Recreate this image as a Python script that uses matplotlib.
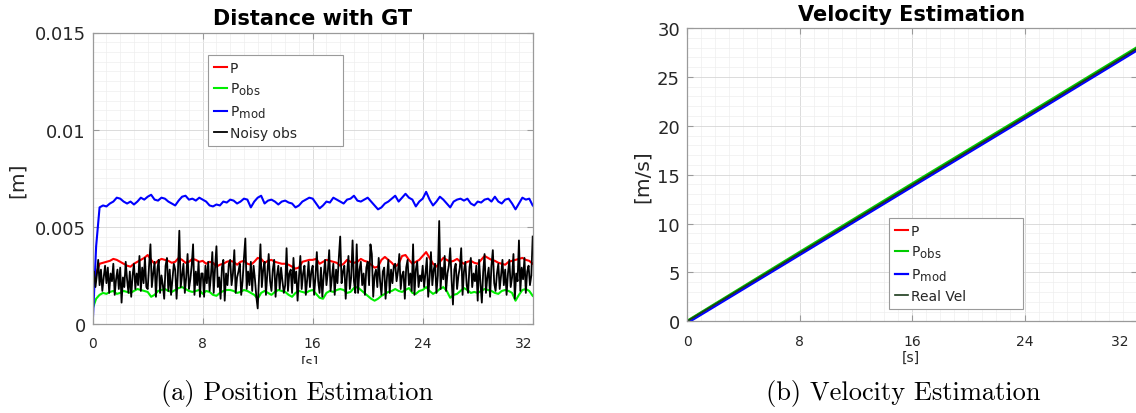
import numpy as np
import matplotlib
matplotlib.use('Agg')
import matplotlib.pyplot as plt
import matplotlib._mathtext as _mt
from matplotlib.ticker import MultipleLocator
from matplotlib.transforms import Bbox, TransformedBbox

_mt.SHRINK_FACTOR = 0.85  # MATLAB-like larger subscripts

# ---------------- data ----------------
# Position error, values in millimetres, sampled every 0.25 s (0..32 s)
p_mm = [1.5, 2.6, 3.1, 3.15, 3.2, 3.25, 3.35, 3.3,
        3.2, 3.1, 3.0, 2.95, 3.1, 3.2, 3.3, 3.4,
        3.55, 3.3, 3.1, 3.25, 3.35, 3.3, 3.25, 3.15,
        3.2, 3.4, 3.3, 3.15, 3.2, 3.35, 3.3, 3.2,
        3.25, 3.1, 3.2, 3.15, 2.95, 3.05, 3.1, 3.2,
        3.25, 3.2, 3.05, 3.2, 3.25, 3.1, 3.05, 3.2,
        3.4, 3.35, 3.15, 3.25, 3.3, 3.2, 3.15, 3.1,
        3.1, 3.05, 2.95, 2.85, 2.9, 3.2, 3.25, 3.3,
        3.3, 3.35, 3.1, 3.2, 3.3, 3.25, 3.2, 3.15,
        3.0, 3.1, 3.3, 3.2, 3.15, 3.2, 3.35, 3.25,
        3.2, 3.05, 2.9, 2.95, 3.3, 3.45, 3.3, 3.15,
        2.95, 3.1, 3.5, 3.55, 3.3, 3.1, 3.2, 3.3,
        3.5, 3.7, 3.4, 3.1, 2.95, 3.2, 3.4, 3.3,
        3.2, 3.25, 3.35, 3.2, 3.1, 3.2, 3.25, 3.15,
        3.1, 3.3, 3.5, 3.4, 3.3, 3.25, 3.15, 3.1,
        3.05, 3.2, 3.25, 3.3, 3.35, 3.4, 3.3, 3.25,
        3.1]
p_obs_mm = [0.8, 1.3, 1.5, 1.6, 1.55, 1.65, 1.7, 1.55,
            1.6, 1.7, 1.65, 1.6, 1.7, 1.8, 1.75, 1.7,
            1.65, 1.4, 1.5, 1.7, 1.75, 1.8, 1.7, 1.65,
            1.75, 1.85, 1.9, 1.8, 1.7, 1.65, 1.7, 1.75,
            1.55, 1.7, 1.65, 1.5, 1.45, 1.6, 1.7, 1.75,
            1.75, 1.7, 1.6, 1.65, 1.75, 1.7, 1.6, 1.5,
            1.3, 1.6, 1.7, 1.6, 1.5, 1.65, 1.75, 1.7,
            1.65, 1.5, 1.4, 1.6, 1.7, 1.65, 1.6, 1.7,
            1.75, 1.55, 1.35, 1.3, 1.6, 1.7, 1.65, 1.75,
            1.8, 1.75, 1.6, 1.65, 1.85, 1.9, 1.75, 1.6,
            1.45, 1.3, 1.2, 1.3, 1.45, 1.55, 1.65, 1.7,
            1.8, 1.7, 1.65, 1.75, 1.85, 1.6, 1.55, 1.7,
            1.75, 1.9, 1.7, 1.55, 1.65, 1.8, 1.9, 1.7,
            1.35, 1.5, 1.55, 1.7, 1.85, 1.75, 1.6, 1.65,
            1.6, 1.7, 1.8, 1.75, 1.7, 1.6, 1.55, 1.7,
            1.75, 1.7, 1.6, 1.2, 1.5, 1.75, 1.8, 1.7,
            1.45]
p_mod_mm = [0.0, 4.0, 6.0, 6.1, 6.05, 6.2, 6.3, 6.5,
            6.45, 6.3, 6.2, 6.3, 6.15, 6.3, 6.5, 6.4,
            6.55, 6.65, 6.4, 6.35, 6.5, 6.45, 6.3, 6.2,
            6.1, 6.35, 6.55, 6.6, 6.4, 6.45, 6.35, 6.5,
            6.4, 6.3, 6.1, 6.05, 6.15, 6.1, 6.3, 6.25,
            6.4, 6.35, 6.2, 6.3, 6.45, 6.4, 6.0, 6.3,
            6.5, 6.6, 6.2, 6.35, 6.4, 6.3, 6.15, 6.3,
            6.35, 6.25, 6.2, 6.0, 6.1, 6.3, 6.4, 6.5,
            6.45, 6.2, 5.95, 6.1, 6.3, 6.25, 6.5, 6.4,
            6.3, 6.2, 6.4, 6.45, 6.6, 6.35, 6.3, 6.4,
            6.5, 6.3, 6.1, 5.9, 6.0, 6.2, 6.3, 6.45,
            6.6, 6.3, 6.5, 6.7, 6.5, 6.4, 6.05, 6.3,
            6.45, 6.8, 6.4, 6.1, 6.3, 6.55, 6.4, 6.2,
            6.0, 6.3, 6.4, 6.45, 6.35, 6.45, 6.2, 6.1,
            6.3, 6.25, 6.4, 6.45, 6.3, 6.55, 6.3, 6.2,
            6.4, 6.45, 6.2, 5.9, 6.2, 6.5, 6.4, 6.45,
            6.1]
# Noisy observation, millimetres, every 0.1 s (0..32 s)
noisy_mm = [2.2, 2.7, 1.9, 2.5, 3.3, 2.0, 2.8, 1.7, 2.4, 3.0, 2.1, 2.9, 1.6, 2.6, 2.2, 3.1, 1.5, 2.3, 2.8, 1.8,
            2.9, 1.1, 2.4, 1.9, 3.2, 2.3, 1.6, 2.7, 1.4, 2.5, 3.1, 1.8, 2.6, 2.0, 3.5, 1.7, 2.9, 2.1, 3.4, 1.9,
            1.8, 3.0, 4.1, 1.9, 2.6, 3.2, 1.4, 2.8, 3.3, 1.6, 2.5, 2.0, 1.3, 3.0, 3.4, 1.7, 2.8, 1.5, 2.3, 3.1,
            2.8, 1.3, 2.7, 4.8, 1.9, 2.5, 3.1, 1.6, 2.4, 3.6, 1.8, 2.3, 3.0, 4.1, 1.5, 2.7, 2.0, 3.2, 1.4, 2.6,
            2.6, 1.4, 3.0, 2.1, 3.2, 1.7, 2.5, 3.7, 1.6, 2.9, 4.0, 1.9, 2.4, 1.3, 2.9, 3.3, 1.2, 2.6, 2.0, 3.1,
            3.3, 2.0, 2.6, 3.8, 1.6, 2.4, 2.7, 3.1, 1.5, 2.2, 3.4, 4.4, 1.8, 2.7, 2.0, 3.2, 1.7, 3.0, 2.3, 1.4,
            0.8, 2.5, 4.1, 1.9, 2.8, 3.2, 1.5, 2.6, 3.6, 2.2, 1.7, 2.8, 3.3, 1.4, 2.5, 3.0, 1.8, 2.9, 2.2, 1.6,
            2.0, 3.9, 1.7, 2.6, 2.8, 1.6, 3.4, 2.1, 2.7, 1.2, 2.4, 3.5, 1.8, 2.6, 3.0, 1.5, 2.3, 3.2, 1.9, 2.7,
            3.0, 1.5, 2.4, 3.7, 2.2, 1.6, 2.9, 1.4, 2.5, 3.3, 2.0, 2.7, 3.8, 1.7, 2.4, 3.1, 1.5, 2.8, 2.1, 3.4,
            4.5, 2.1, 2.7, 3.0, 1.3, 2.6, 3.5, 1.8, 2.4, 4.3, 2.2, 1.6, 4.1, 1.6, 2.8, 3.2, 2.0, 2.6, 1.5, 2.9,
            3.2, 2.0, 4.1, 3.6, 1.4, 2.5, 2.8, 1.9, 3.4, 2.2, 1.5, 2.7, 2.9, 1.3, 2.4, 3.3, 1.6, 2.8, 2.1, 3.0,
            3.1, 2.2, 2.7, 3.6, 1.8, 2.5, 2.7, 1.3, 2.9, 3.3, 2.0, 2.6, 1.7, 4.1, 1.5, 2.8, 3.2, 1.9, 2.5, 2.2,
            3.0, 1.9, 2.6, 3.4, 1.4, 2.4, 3.7, 2.0, 2.8, 3.1, 1.6, 2.5, 5.3, 1.8, 2.9, 2.3, 3.5, 1.7, 2.6, 3.0,
            3.9, 2.3, 1.0, 2.8, 3.1, 1.8, 2.5, 2.9, 3.9, 1.5, 2.7, 3.2, 2.0, 1.6, 2.9, 3.4, 1.9, 2.6, 2.2, 3.0,
            1.2, 3.3, 2.1, 1.1, 2.7, 3.6, 1.6, 2.4, 2.9, 1.4, 3.0, 3.8, 2.1, 1.7, 2.6, 3.1, 1.8, 2.5, 3.3, 2.0,
            2.8, 1.5, 2.6, 3.3, 1.9, 2.4, 3.6, 1.3, 2.6, 2.2, 4.3, 1.7, 2.9, 2.3, 3.4, 1.6, 2.7, 3.0, 2.0, 2.5,
            4.5]
t_pos = np.linspace(0, 32, len(p_mm))
t_noisy = np.linspace(0, 32, len(noisy_mm))

# Velocity estimation (m/s) read at the tick times
t_vel = [0, 8, 16, 24, 32]
v_p = [0.0, 6.97, 13.95, 20.9, 27.9]
v_obs = [0.05, 7.1, 14.1, 21.05, 28.05]
v_mod = [-0.2, 6.77, 13.75, 20.7, 27.7]
v_real = [0.0, 6.97, 13.95, 20.9, 27.9]

x_ticks = [0, 8, 16, 24, 32]
x_tick_labels = ['0', '8', '16', '24', '32']
pos_y_ticks = [0, 0.005, 0.01, 0.015]
pos_y_tick_labels = ['0', '0.005', '0.01', '0.015']
vel_y_ticks = [0, 5, 10, 15, 20, 25, 30]
vel_y_tick_labels = ['0', '5', '10', '15', '20', '25', '30']
pos_labels = ['P', r'P$_{\mathregular{obs}}$', r'P$_{\mathregular{mod}}$', 'Noisy obs']
vel_labels = ['P', r'P$_{\mathregular{obs}}$', r'P$_{\mathregular{mod}}$', 'Real Vel']

# ---------------- figure ----------------
W, H = 1136, 414
fig = plt.figure(figsize=(W / 100, H / 100), dpi=100)

TXT = '#262626'
SPINE = '#9a9a9a'


def px_axes(l, t, r, b):
    return fig.add_axes([l / W, 1 - b / H, (r - l) / W, (b - t) / H])


def style(ax, ymin_step):
    ax.set_facecolor('white')
    for s in ax.spines.values():
        s.set_color(SPINE)
        s.set_linewidth(0.9)
    ax.xaxis.set_minor_locator(MultipleLocator(1))
    ax.yaxis.set_minor_locator(MultipleLocator(ymin_step))
    ax.grid(True, which='major', color='#d6d6d6', linewidth=0.6)
    ax.grid(True, which='minor', color='#eeeeee', linewidth=0.5)
    ax.set_axisbelow(True)
    ax.tick_params(which='major', direction='in', length=4, width=0.8,
                   color=SPINE, top=True, right=True, labelcolor=TXT)
    ax.tick_params(which='minor', length=0, top=True, right=True)
    ax.tick_params(axis='x', labelsize=10, pad=9)
    ax.tick_params(axis='y', labelsize=13, pad=5)


def px_legend(ax, handles, labels, l, t, r, b):
    leg = ax.legend(handles, labels, loc='upper left', mode='expand',
                    bbox_to_anchor=(l / W, 1 - b / H, (r - l) / W, (b - t) / H),
                    bbox_transform=fig.transFigure, fontsize=10, frameon=True,
                    fancybox=False, framealpha=1, edgecolor='#9a9a9a',
                    handlelength=1.0, handletextpad=0.15, labelspacing=0.45,
                    borderpad=0.4, borderaxespad=0)
    leg.get_frame().set_linewidth(0.8)
    for t_ in leg.get_texts():
        t_.set_color(TXT)
    return leg


# ---- left: position ----
ax1 = px_axes(92.7, 33.5, 532.7, 325)
l1, = ax1.plot(t_pos, np.array(p_mm) * 1e-3, color='#ff0000', lw=1.5)
l2, = ax1.plot(t_pos, np.array(p_obs_mm) * 1e-3, color='#00ee00', lw=1.5)
l3, = ax1.plot(t_pos, np.array(p_mod_mm) * 1e-3, color='#0000ff', lw=1.5)
l4, = ax1.plot(t_noisy, np.array(noisy_mm) * 1e-3, color='black', lw=1.3)
ax1.set_xlim(0, 32)
ax1.set_ylim(0, 0.015)
style(ax1, 0.0005)
ax1.set_xticks(x_ticks)
ax1.set_xticklabels(x_tick_labels)
ax1.set_yticks(pos_y_ticks)
ax1.set_yticklabels(pos_y_tick_labels)
ax1.get_xticklabels()[-1].set_ha('right')
ax1.set_title('Distance with GT', fontsize=15, fontweight='bold', color='black', pad=6)
fig.text(17 / W, 1 - 180 / H, '[m]', rotation=90, fontsize=14.5, color=TXT,
         ha='center', va='center')
px_legend(ax1, [l1, l2, l3, l4], pos_labels, 208, 56, 343, 148)
# clipped x label "[s]"
xl1 = fig.text(310 / W, 1 - 363 / H, '[s]', fontsize=10, color=TXT, ha='center', va='center')
xl1.set_clip_box(TransformedBbox(Bbox([[0, 1 - 365 / H], [1, 1]]), fig.transFigure))
xl1.set_clip_on(True)

# ---- right: velocity ----
ax2 = px_axes(687, 29, 1137, 322.3)
m1, = ax2.plot(t_vel, v_p, color='#ff0000', lw=1.5)
m3, = ax2.plot(t_vel, v_mod, color='#0000ff', lw=1.6)
m2, = ax2.plot(t_vel, v_obs, color='#00cc00', lw=1.5)
m4, = ax2.plot(t_vel, v_real, color='#1a3a1a', lw=1.2)
ax2.set_xlim(0, 32)
ax2.set_ylim(0, 30)
style(ax2, 1)
ax2.set_xticks(x_ticks)
ax2.set_xticklabels(x_tick_labels[:-1] + [x_tick_labels[-1] + '  '])
ax2.set_yticks(vel_y_ticks)
ax2.set_yticklabels(vel_y_tick_labels)
ax2.get_xticklabels()[-1].set_ha('right')
ax2.set_title('Velocity Estimation', fontsize=15, fontweight='bold', color='black', pad=6)
fig.text(642 / W, 1 - 177 / H, '[m/s]', rotation=90, fontsize=14.5, color=TXT,
         ha='center', va='center')
px_legend(ax2, [m1, m2, m3, m4], vel_labels, 889, 219, 1023, 307)
fig.text(911 / W, 1 - 358 / H, '[s]', fontsize=10, color=TXT, ha='center', va='center')

# ---- captions ----
fig.text(297 / W, 1 - 394 / H, '(a) Position Estimation', fontsize=19,
         family='cmr10', color='black', ha='center', va='center')
fig.text(903 / W, 1 - 394 / H, '(b) Velocity Estimation', fontsize=19,
         family='cmr10', color='black', ha='center', va='center')

fig.savefig('out.png', dpi=100, facecolor='white')
